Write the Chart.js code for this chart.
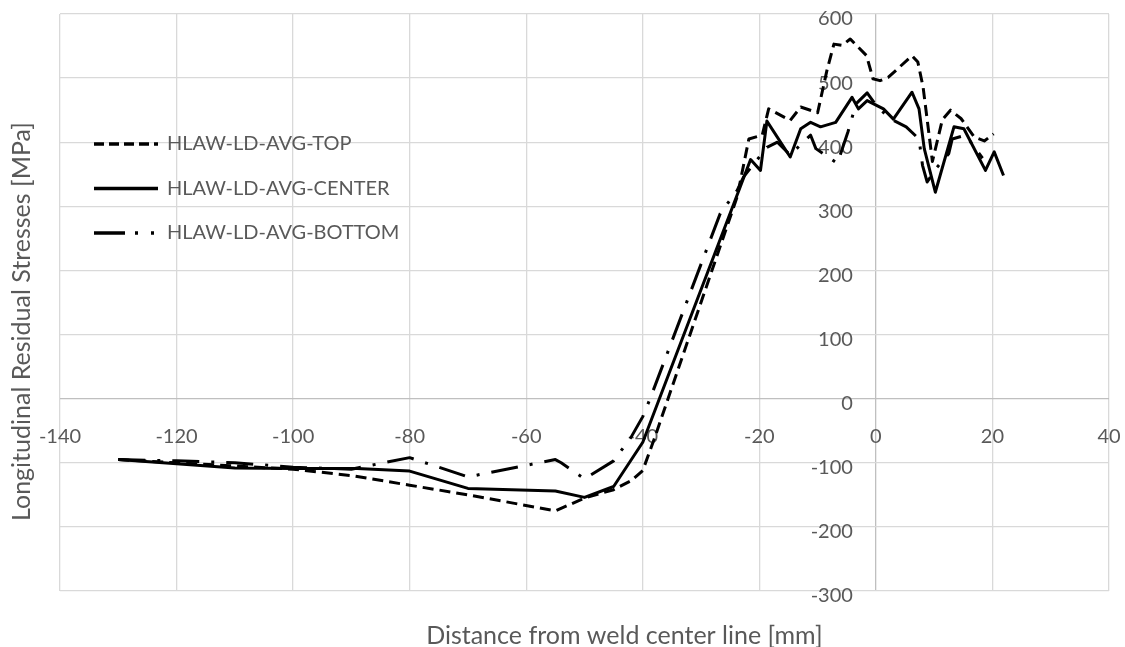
<!DOCTYPE html>
<html>
<head>
<meta charset="utf-8">
<script src="https://cdn.jsdelivr.net/npm/chart.js@4.4.1/dist/chart.umd.min.js"></script>
<style>
html,body{margin:0;padding:0;background:#ffffff;}
#wrap{width:1125px;height:647px;}
</style>
</head>
<body>
<div id="wrap"><canvas id="c" width="1125" height="647"></canvas></div>
<script>
// ---- data ----
const seriesNames = ['HLAW-LD-AVG-TOP', 'HLAW-LD-AVG-CENTER', 'HLAW-LD-AVG-BOTTOM'];

const topX = [-130,-120,-110,-100,-90,-80,-70,-55,-50,-45,-42,-40,-38,-23.8,-21.8,-19.5,-18.4,-14.7,-12.9,-10,-8.4,-7.2,-5.8,-4.4,-1.6,-0.5,0.7,2.1,6.2,7.2,8.1,9.7,11.4,12.8,14.6,16.9,18.6,20.2];
const topY = [-95,-100,-105,-110,-120,-135,-150,-175,-155,-142,-128,-112,-62,315,405,411,452,434,455,446,512,553,551,561,535,499,496,501,535,525,486,370,435,450,437,408,402,413];

const centerX = [-130,-110,-100,-89,-80,-70,-55,-50,-45,-40,-23.5,-21.5,-19.8,-18.7,-14.7,-12.9,-11.2,-9.5,-6.9,-4.1,-3,-1.5,1.3,3,6.2,7.4,8.3,10.2,13.4,15.1,18.8,20.3,21.9];
const centerY = [-95,-108,-109,-109,-113,-140,-144,-154,-137,-68,325,373,356,433,377,421,431,424,431,470,452,465,452,436,478,452,390,322,424,421,356,385,348];

const bottomX = [-130,-120,-110,-100,-90,-80,-70,-55,-54,-50,-45,-42,-40,-38.7,-26.7,-23.8,-22.7,-18.7,-16.9,-14.7,-12.5,-11.2,-10.3,-6.6,-4.8,-3.4,-1.5,0.1,2.4,5.2,7.4,8,8.8,10.5,12.5,13.1,15.4,18.3];
const bottomY = [-95,-97,-100,-107,-110,-92,-122,-95,-100,-125,-97,-60,-28,1,289,325,346,392,400,380,400,411,390,367,416,460,477,457,437,424,405,364,338,361,382,405,411,375];

const xTickValues = [-140,-120,-100,-80,-60,-40,-20,0,20,40];
const yTickValues = [-300,-200,-100,0,100,200,300,400,500,600];

const xTitle = 'Distance from weld center line [mm]';
const yTitle = 'Longitudinal Residual Stresses [MPa]';

// ---- styling ----
const FONT = 'Lato';
const TXT = '#595959';
const GRID = '#d9d9d9';
const AXIS = '#bfbfbf';
const FS = 20;
const TFS = 25;

function pts(xs, ys) { return xs.map((x, i) => ({x: x, y: ys[i]})); }

const dashTop = [11, 6];
const dashBottom = [27, 12, 3, 12];

const datasets = [
  {label: seriesNames[0], data: pts(topX, topY), borderDash: dashTop, legendDash: [10, 5]},
  {label: seriesNames[1], data: pts(centerX, centerY), borderDash: [], legendDash: []},
  {label: seriesNames[2], data: pts(bottomX, bottomY), borderDash: dashBottom, legendDash: [31, 10, 3, 13, 3, 20]}
].map(d => Object.assign({
  borderColor: '#000000',
  backgroundColor: '#000000',
  borderWidth: 3,
  pointRadius: 0,
  pointHoverRadius: 0,
  tension: 0,
  fill: false,
  borderJoinStyle: 'round',
  borderCapStyle: 'butt',
  showLine: true
}, d));

// legend drawn inside the plot area, from the dataset styles
const inlineLegend = {
  id: 'inlineLegend',
  afterDatasetsDraw(chart) {
    const ctx = chart.ctx;
    const a = chart.chartArea;
    ctx.save();
    chart.data.datasets.forEach((ds, i) => {
      const y = a.top + 130 + i * 44.5;
      const x0 = a.left + 34;
      const x1 = a.left + 98;
      ctx.beginPath();
      ctx.setLineDash(ds.legendDash || []);
      ctx.lineWidth = 3.5;
      ctx.strokeStyle = ds.borderColor;
      ctx.lineCap = 'butt';
      ctx.moveTo(x0, y);
      ctx.lineTo(x1, y);
      ctx.stroke();
      ctx.setLineDash([]);
      ctx.fillStyle = TXT;
      ctx.font = FS + 'px ' + FONT;
      ctx.textAlign = 'left';
      ctx.textBaseline = 'middle';
      ctx.fillText(ds.label, a.left + 107, y);
    });
    ctx.restore();
  }
};

// axis titles, placed relative to the chart area
const axisTitles = {
  id: 'axisTitles',
  afterDraw(chart) {
    const ctx = chart.ctx;
    const a = chart.chartArea;
    ctx.save();
    ctx.fillStyle = TXT;
    ctx.font = TFS + 'px ' + FONT;
    ctx.textAlign = 'center';
    ctx.textBaseline = 'middle';
    ctx.fillText(xTitle, a.left + (a.right - a.left) * 0.538, a.bottom + 45);
    ctx.translate(a.left - 38, a.top + (a.bottom - a.top) * 0.533);
    ctx.rotate(-Math.PI / 2);
    ctx.fillText(yTitle, 0, 0);
    ctx.restore();
  }
};

const gridColor = c => (c.tick && c.tick.value === 0) ? AXIS : GRID;

new Chart(document.getElementById('c'), {
  type: 'scatter',
  data: {datasets: datasets},
  plugins: [inlineLegend, axisTitles],
  options: {
    responsive: false,
    animation: false,
    devicePixelRatio: 1,
    layout: {padding: {top: 14, right: 16, bottom: 56, left: 60}},
    font: {family: FONT},
    plugins: {
      legend: {display: false},
      tooltip: {enabled: false}
    },
    scales: {
      x: {
        type: 'linear', min: -140, max: 40,
        position: {y: 0},
        afterBuildTicks: s => { s.ticks = xTickValues.map(v => ({value: v})); },
        grid: {color: gridColor, lineWidth: 1.3, drawTicks: true, tickLength: 26, tickColor: 'rgba(0,0,0,0)'},
        border: {display: false},
        ticks: {padding: 0, color: TXT, font: {family: FONT, size: FS}, maxRotation: 0, autoSkip: false}
      },
      y: {
        type: 'linear', min: -300, max: 600,
        position: {x: -3.95},
        afterBuildTicks: s => { s.ticks = yTickValues.map(v => ({value: v})); },
        grid: {color: gridColor, lineWidth: 1.3, drawTicks: false},
        border: {display: false},
        ticks: {padding: 0, labelOffset: 5, color: TXT, font: {family: FONT, size: FS}, autoSkip: false}
      }
    }
  }
});
</script>
</body>
</html>
